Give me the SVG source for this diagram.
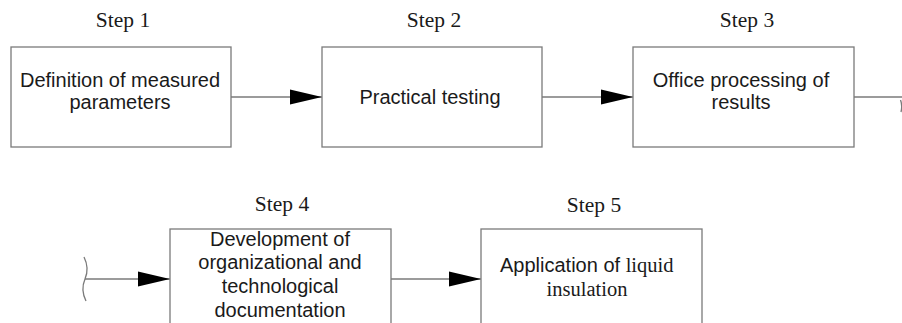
<svg xmlns="http://www.w3.org/2000/svg" width="902" height="323" viewBox="0 0 902 323">
<style>
.box{fill:#fff;stroke:#7a7a7a;stroke-width:1.3}
.t{font-family:"Liberation Sans",Arial,sans-serif;font-size:20px;fill:#1a1a1a;text-anchor:middle}
.tr{font-family:"Liberation Serif","Times New Roman",serif;font-size:20.5px;fill:#1a1a1a}
.step{font-family:"Liberation Serif","Times New Roman",serif;font-size:21.5px;fill:#1a1a1a;text-anchor:middle}
.ln{fill:none;stroke:#7a7a7a;stroke-width:1.3}
</style>
<defs>
<marker id="ah" markerUnits="userSpaceOnUse" markerWidth="32" markerHeight="18" refX="32" refY="9" orient="auto">
<path d="M0,1.5 L32,9 L0,16.5 Z" fill="#000"/>
</marker>
</defs>
<rect width="902" height="323" fill="#fff"/>
<g id="connectors">
<line class="ln" x1="231" y1="97" x2="322" y2="97" marker-end="url(#ah)"/>
<line class="ln" x1="542" y1="97" x2="633" y2="97" marker-end="url(#ah)"/>
<line class="ln" x1="854" y1="97" x2="902" y2="97"/>
<path class="ln" d="M900.5,100 C902,104 902,108 901,112"/>
<path class="ln" d="M84,257 C88,265 88,272 85,279 C82,286 82,293 86,301"/>
<line class="ln" x1="85" y1="279" x2="170" y2="279" marker-end="url(#ah)"/>
<line class="ln" x1="391" y1="279" x2="481" y2="279" marker-end="url(#ah)"/>
</g>
<g id="step1">
<text class="step" x="123" y="27">Step 1</text>
<rect class="box" x="11" y="47" width="220" height="100"/>
<text class="t" x="120" y="87">Definition of measured</text>
<text class="t" x="120" y="109">parameters</text>
</g>
<g id="step2">
<text class="step" x="434" y="27">Step 2</text>
<rect class="box" x="322" y="47" width="220" height="100"/>
<text class="t" x="430" y="104">Practical testing</text>
</g>
<g id="step3">
<text class="step" x="747" y="27">Step 3</text>
<rect class="box" x="633" y="47" width="221" height="100"/>
<text class="t" x="741" y="87">Office processing of</text>
<text class="t" x="741" y="109">results</text>
</g>
<g id="step4">
<text class="step" x="282" y="211">Step 4</text>
<rect class="box" x="170" y="229" width="221" height="120"/>
<text class="t" x="280" y="246">Development of</text>
<text class="t" x="280" y="269">organizational and</text>
<text class="t" x="280" y="293">technological</text>
<text class="t" x="280" y="317">documentation</text>
</g>
<g id="step5">
<text class="step" x="594" y="212">Step 5</text>
<rect class="box" x="481" y="229" width="221" height="120"/>
<text x="500" y="272"><tspan class="t" style="text-anchor:start">Application of </tspan><tspan class="tr">liquid</tspan></text>
<text class="tr" x="587" y="296" text-anchor="middle">insulation</text>
</g>
</svg>
